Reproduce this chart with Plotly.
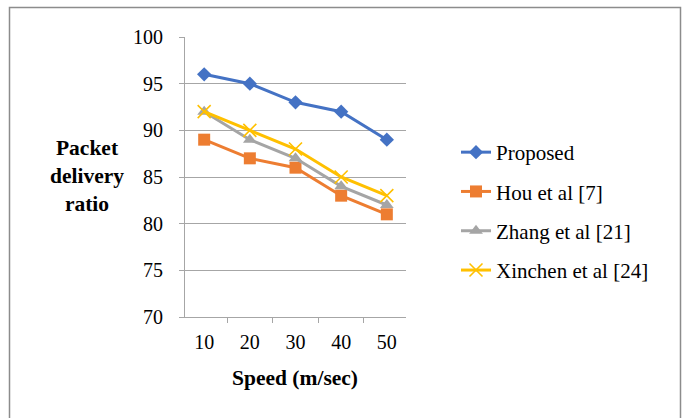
import plotly.graph_objects as go

# Packet delivery ratio vs. node speed
speeds = ["10", "20", "30", "40", "50"]
proposed = [96, 95, 93, 92, 89]
hou = [89, 87, 86, 83, 81]
zhang = [92, 89, 87, 84, 82]
xinchen = [92, 90, 88, 85, 83]

series_names = ["Proposed", "Hou et al [7]", "Zhang et al [21]", "Xinchen et al [24]"]
colors = ["#4472C4", "#ED7D31", "#A5A5A5", "#FFC000"]
symbols = ["diamond", "square", "triangle-up", "x-thin"]
sizes = [11, 12, 12, 13]

W, H = 688, 418
L, R, T, B = 185, 406, 37, 317  # plot area in pixels


def px_x(x):
    return (x - L) / (R - L)


def px_y(y):
    return (B - y) / (B - T)


FONT = "Times New Roman, Liberation Serif, serif"

fig = go.Figure()
for i, (name, vals) in enumerate(zip(series_names, [proposed, hou, zhang, xinchen])):
    marker = dict(symbol=symbols[i], size=sizes[i], color=colors[i])
    if symbols[i] == "x-thin":
        marker["line"] = dict(color=colors[i], width=1.6)
    fig.add_trace(go.Scatter(
        x=speeds, y=vals, name=name, mode="lines+markers",
        line=dict(color=colors[i], width=3), marker=marker,
        legendgroup=name,
    ))

fig.update_layout(
    width=W, height=H,
    margin=dict(l=L, r=W - R, t=T, b=H - B),
    paper_bgcolor="white", plot_bgcolor="white",
    font=dict(family=FONT, size=20, color="black"),
    showlegend=True,
    legend=dict(
        x=px_x(456), y=px_y(132), xanchor="left", yanchor="top",
        font=dict(family=FONT, size=21, color="black"),
        tracegroupgap=9, bgcolor="rgba(0,0,0,0)",
    ),
    xaxis=dict(
        type="category", showgrid=False, showline=True, linecolor="#A6A6A6",
        linewidth=1, ticks="outside", tickson="boundaries", ticklen=5,
        tickcolor="#A6A6A6", tickfont=dict(family=FONT, size=20),
        ticklabelstandoff=7, fixedrange=True,
    ),
    yaxis=dict(
        range=[70, 100], dtick=5, showgrid=True, gridcolor="#A6A6A6",
        gridwidth=1, showline=True, linecolor="#A6A6A6", linewidth=1,
        ticks="outside", ticklen=5, tickcolor="#A6A6A6",
        tickfont=dict(family=FONT, size=20), ticklabelstandoff=12,
        zeroline=False, fixedrange=True,
    ),
    shapes=[dict(
        type="rect", xref="paper", yref="paper",
        x0=px_x(9.5), x1=px_x(680.5), y0=px_y(430), y1=px_y(7.5),
        line=dict(color="#8C8C8C", width=1.5), fillcolor="rgba(0,0,0,0)",
        layer="below",
    )],
    annotations=[
        dict(text="<b>Packet<br>delivery<br>ratio</b>", xref="paper", yref="paper",
             x=px_x(87), y=px_y(176), xanchor="center", yanchor="middle",
             showarrow=False, font=dict(family=FONT, size=21.5), align="center"),
        dict(text="<b>Speed (m/sec)</b>", xref="paper", yref="paper",
             x=px_x(295), y=px_y(378), xanchor="center", yanchor="middle",
             showarrow=False, font=dict(family=FONT, size=21.5)),
    ],
)

fig.write_html("out.html")
